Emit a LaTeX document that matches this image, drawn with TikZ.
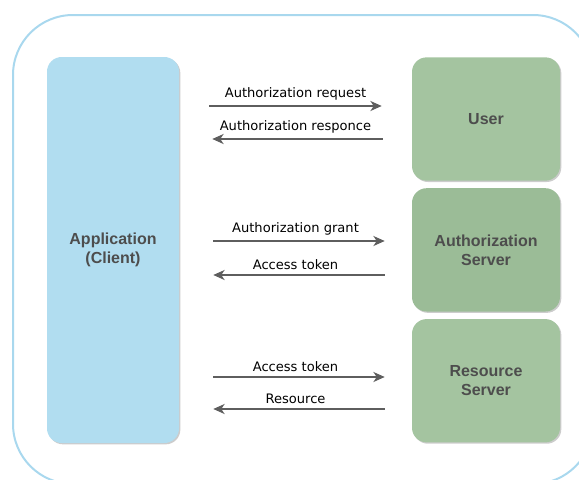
\documentclass[tikz,border=0pt]{standalone}
\usepackage{fontspec}
\setmainfont{Liberation Sans}
\newfontfamily\lblfont{DejaVu Sans}
\usetikzlibrary{positioning, arrows.meta, shadows}
\definecolor{appblue}{HTML}{B1DDF0}
\definecolor{frameblue}{HTML}{A9D8EE}
\definecolor{usergreen}{HTML}{A4C4A0}
\definecolor{authgreen}{HTML}{9BBC97}
\definecolor{boxtext}{HTML}{4D4D4D}
\definecolor{flowgray}{HTML}{5E5E5E}

\begin{document}
\begin{tikzpicture}[x=0.75pt, y=-0.75pt,
 box/.style={rounded corners=11pt, minimum width=111pt, minimum height=92.5pt, align=center, font=\bfseries\fontsize{12}{14.25}\selectfont, text=boxtext, drop shadow={shadow xshift=1pt, shadow yshift=-1pt, fill=black, opacity=0.2}},
 flow/.style={draw=flowgray, line width=1.3pt, -{Stealth[length=8.5pt, width=7.5pt, inset=2.5pt]}},
 lbl/.style={midway, above, font=\lblfont\fontsize{9.8}{11}\selectfont, text=black}]
 \useasboundingbox (0,0) rectangle (579,479);
 \clip (0,0) rectangle (579,479);
 \draw[frameblue, line width=1.5pt, rounded corners=45pt] (13,15) rectangle (593,484);

 \node[box, fill=appblue, minimum width=99pt, minimum height=289.5pt] (app) at (113,250) {Application\\(Client)};
 \node[box, fill=usergreen] (user) at (486,119) {User};
 \node[box, fill=authgreen, below=5.25pt of user] (auth) {Authorization\\Server};
 \node[box, fill=usergreen, below=5.25pt of auth] (res) {Resource\\Server};

 \draw[flow, shorten <=22.5pt, shorten >=22.5pt] (app.east |- 0,106) -- node[lbl] {Authorization request} (user.west |- 0,106);
 \draw[flow, shorten <=21.75pt, shorten >=24.75pt] (user.west |- 0,139) -- node[lbl] {Authorization responce} (app.east |- 0,139);

 \draw[flow, shorten <=25.5pt, shorten >=20.25pt] (app.east |- 0,241) -- node[lbl] {Authorization grant} (auth.west |- 0,241);
 \draw[flow, shorten <=20.25pt, shorten >=25.5pt] (auth.west |- 0,275) -- node[lbl] {Access token} (app.east |- 0,275);

 \draw[flow, shorten <=25.5pt, shorten >=20.25pt] (app.east |- 0,377) -- node[lbl] {Access token} (res.west |- 0,377);
 \draw[flow, shorten <=20.25pt, shorten >=25.5pt] (res.west |- 0,409) -- node[lbl] {Resource} (app.east |- 0,409);
\end{tikzpicture}
\end{document}
